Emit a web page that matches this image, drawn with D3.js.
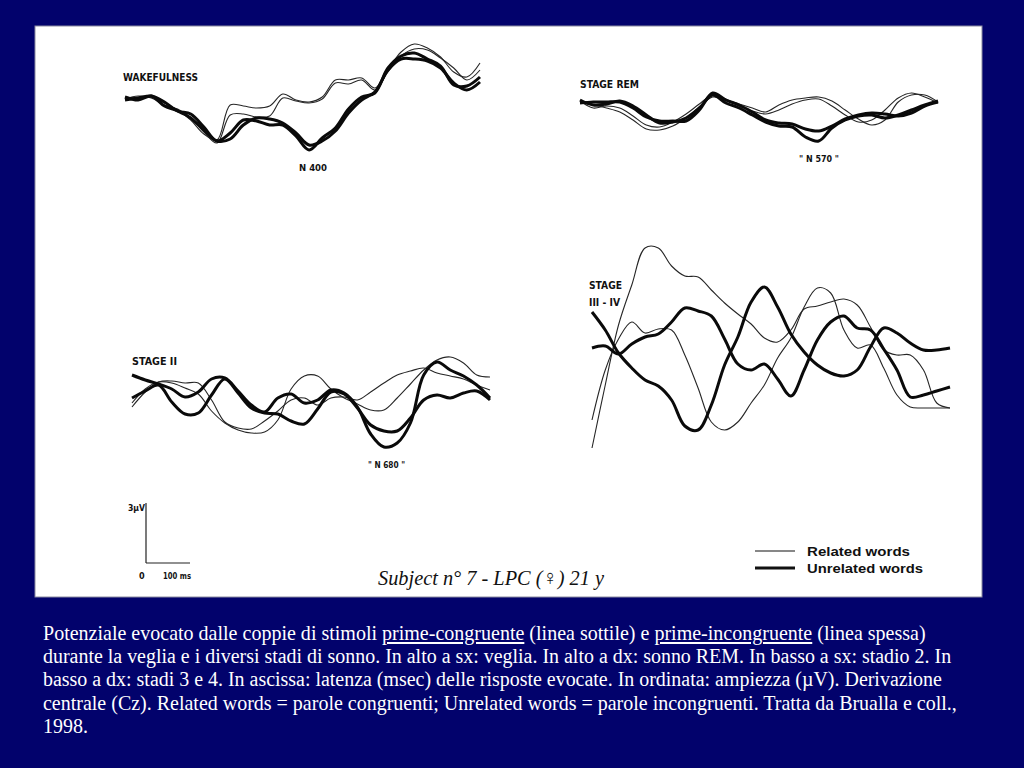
<!DOCTYPE html>
<html><head><meta charset="utf-8">
<script src="https://cdn.jsdelivr.net/npm/d3@7"></script>
<style>html,body{margin:0;padding:0;background:#02026c;overflow:hidden}svg{display:block}</style>
</head><body><svg id="c" width="1024" height="768"></svg>
<script>
// ---------- DATA (latency in ms, amplitude in µV) ----------
const timeMs = [0,30,60,90,120,150,180,210,240,270,300,330,360,390,420,450,480,510,540,570,600,630,660,690,720,750,780,810];

const wakeRelated1   = [0.15,0.1,0.15,-0.15,-0.5,-1,-1.7,-2,-0.25,-0.3,-0.4,-0.3,0.3,0,-0.1,0.15,1,1,1.1,0.6,1.5,2.4,2.8,2.6,2.15,1.4,1.15,1.85];
const wakeRelated2   = [0.05,0.2,0.1,-0.25,-0.45,-0.9,-1.6,-2.15,-0.75,-0.7,-0.85,-0.8,0.1,-0.05,-0.15,0.05,0.85,0.8,1,0.5,1.4,2.2,2.55,2.5,2.1,1.6,1,1.5];
const wakeUnrelated1 = [0,0.1,0.2,-0.1,-0.55,-0.7,-1.35,-2.05,-1.65,-1,-1.05,-1.25,-1.25,-1.8,-2.5,-1.9,-1.4,-0.45,0.15,0.35,1.6,2.2,2.35,2.05,1.7,0.75,0.7,1.15];
const wakeUnrelated2 = [0.15,0,0.2,-0.3,-0.55,-0.9,-1.5,-2.05,-1.95,-1.25,-0.9,-0.95,-1.15,-1.65,-2.25,-2.05,-1.55,-0.65,0,0.4,1.5,2.05,2.05,1.95,1.6,0.85,0.5,0.9];

const remRelated1   = [0,-0.1,-0.25,-0.45,-0.85,-1.3,-1.35,-1.15,-0.75,-0.2,0.3,0.15,-0.05,-0.25,-0.45,-0.1,0.15,0.25,0.3,0.1,-0.35,-0.8,-1.1,-0.85,0.05,0.4,0.4,0.05];
const remRelated2   = [0.1,-0.25,-0.15,-0.25,-0.65,-1.1,-1.2,-0.95,-0.55,-0.05,0.4,0.2,-0.15,-0.4,-0.55,-0.35,-0.05,0.15,0.2,-0.15,-0.6,-0.95,-0.85,-0.35,0.25,0.5,0.3,0];
const remUnrelated1 = [0,0.05,0.05,0.05,-0.25,-0.7,-0.9,-0.9,-0.9,-0.35,0.5,0.15,-0.1,-0.45,-0.85,-1,-1.05,-1.3,-1.4,-1.15,-0.8,-0.6,-0.5,-0.55,-0.65,-0.5,-0.15,0.05];
const remUnrelated2 = [0.15,-0.1,-0.05,0.1,-0.15,-0.6,-1,-0.95,-0.75,-0.25,0.4,0,-0.25,-0.6,-0.95,-1.15,-1.2,-1.7,-1.9,-1.25,-0.85,-0.65,-0.6,-0.75,-0.6,-0.35,-0.1,0.1];

const s2Related1   = [-0.6,0.15,0.65,0.7,0.6,0.6,-0.25,-1.35,-1.65,-1.7,-1.3,-0.8,-0.25,-0.15,-0.5,-0.15,-0.1,-0.25,0.15,0.6,1,1.2,1.35,1.1,0.95,0.8,0.5,0.25];
const s2Related2   = [-0.4,0.3,0.65,0.6,0.35,0.05,-0.8,-1.4,-1.75,-1.9,-1.85,-1.25,0.3,0.95,0.95,0.3,-0.15,-0.45,-0.75,-0.75,-0.15,0.55,1.25,1.75,1.9,1.6,1,0.9];
const s2Unrelated1 = [1,0.75,0.55,0.3,-0.1,0.15,0.8,0.85,0.2,-0.5,-0.85,-0.15,0.05,-0.4,-0.25,0.25,0.1,-0.6,-1.95,-2.6,-2.4,-1.4,1,1.65,1.25,0.95,0.5,-0.15];
const s2Unrelated2 = [-0.15,0.2,0.5,-0.35,-0.95,-0.9,0,0.8,0.1,-0.65,-0.9,-0.95,-1.3,-1.45,-0.7,0.15,0.05,-0.65,-1.5,-1.8,-1.8,-1.15,-0.25,0,-0.15,0.1,0.2,-0.25];

const s34Related1   = [-4.9,-1.75,1.25,3.25,5.1,5.1,4.2,3.7,3.65,3,2.35,1.8,1.3,0.6,0.4,1,2.05,2.2,2.4,2.55,2.25,1.15,0,-0.25,-0.25,-1,-2.65,-2.9];
const s34Related2   = [-3.5,-1,0.55,1.4,0.85,1.05,1,-0.25,-1.9,-3.6,-4,-3.6,-2.65,-1.75,-0.4,0.6,2.15,3.1,2.85,1,0.1,0.25,-0.9,-2.25,-2.85,-2.9,-2.9,-2.9];
const s34Unrelated1 = [1.9,1,-0.15,-0.9,-1.5,-1.8,-2.5,-3.8,-4,-2.75,-0.75,0.65,2.4,3.15,2.15,0.8,-0.1,-0.75,-1.15,-1.3,-1,0.15,1.1,0.85,0.35,0,0,0.1];
const s34Unrelated2 = [0.1,0.2,-0.2,0.3,0.65,0.8,1.4,2.1,1.95,1.7,0.55,-0.7,-1,-0.7,-1.45,-2.3,-1,0.5,1.4,1.7,1.1,1,0.05,-1,-2.35,-2.25,-2.05,-1.85];

const panelTitles = [["WAKEFULNESS"], ["STAGE REM"], ["STAGE II"], ["STAGE", "III - IV"]];
const panelNotes  = ["N 400", "\" N 570 \"", "\" N 680 \"", ""];
const legendLabels = ["Related words", "Unrelated words"];
const scaleBarUnits = {amp: 3, ampLabel: "3µV", time: 100, timeLabel: "100 ms", zero: "0"};
const subjectLabel = "Subject n° 7 - LPC (♀) 21 y";
const captionLines = [
  [["Potenziale evocato dalle coppie di stimoli ", false], ["prime-congruente", true], [" (linea sottile) e ", false], ["prime-incongruente", true], [" (linea spessa)", false]],
  [["durante la veglia e i diversi stadi di sonno. In alto a sx: veglia. In alto a dx: sonno REM. In basso a sx: stadio 2. In", false]],
  [["basso a dx: stadi 3 e 4. In ascissa: latenza (msec) delle risposte evocate. In ordinata: ampiezza (µV). Derivazione", false]],
  [["centrale (Cz). Related words = parole congruenti; Unrelated words = parole incongruenti. Tratta da Brualla e coll.,", false]],
  [["1998.", false]]
];

// ---------- LAYOUT ----------
const panels = [
  {rel:[wakeRelated1, wakeRelated2], unrel:[wakeUnrelated1, wakeUnrelated2], x0:125, x1:480, base:100,
   title:{x:123, y:[81], w:[75]}, note:{x:299, y:171, w:28}},
  {rel:[remRelated1, remRelated2], unrel:[remUnrelated1, remUnrelated2], x0:580, x1:938, base:103,
   title:{x:580, y:[88], w:[59]}, note:{x:799, y:162, w:40}},
  {rel:[s2Related1, s2Related2], unrel:[s2Unrelated1, s2Unrelated2], x0:132, x1:490, base:395,
   title:{x:132, y:[365], w:[45]}, note:{x:368, y:468, w:37}},
  {rel:[s34Related1, s34Related2], unrel:[s34Unrelated1, s34Unrelated2], x0:592, x1:950, base:350,
   title:{x:589, y:[289, 306], w:[33, 31]}, note:null}
];
const pxPerUv = 20;

const svg = d3.select('#c');
svg.append('rect').attr('width',1024).attr('height',768).attr('fill','#02026c');
svg.append('rect').attr('x',35).attr('y',26).attr('width',947).attr('height',571)
  .attr('fill','#ffffff').attr('stroke','#8a8aa0').attr('stroke-width',1);

const labelFont = "'DejaVu Sans Condensed','Liberation Sans Narrow','DejaVu Sans',sans-serif";

// fit a text to a width by choosing its font size (no glyph squeezing)
function fitSize(sel, base, target) {
  sel.attr('font-size', base);
  const len = sel.node().getComputedTextLength();
  if (len > 0) sel.attr('font-size', (base * target / len).toFixed(2));
  return sel;
}

panels.forEach((p, i) => {
  const x = d3.scaleLinear().domain([0, 810]).range([p.x0, p.x1]);
  const y = d3.scaleLinear().domain([-6, 6]).range([p.base + 6*pxPerUv, p.base - 6*pxPerUv]);
  const line = d3.line().x((d, k) => x(timeMs[k])).y(d => y(d)).curve(d3.curveCatmullRom.alpha(0.5));
  const g = svg.append('g');
  p.rel.forEach(s => g.append('path').attr('d', line(s)).attr('fill','none')
      .attr('stroke','#262626').attr('stroke-width',1.1).attr('stroke-linejoin','round'));
  p.unrel.forEach(s => g.append('path').attr('d', line(s)).attr('fill','none')
      .attr('stroke','#0a0a0a').attr('stroke-width',3).attr('stroke-linejoin','round'));
  panelTitles[i].forEach((t, k) => {
    g.append('text').attr('x', p.title.x).attr('y', p.title.y[k]).text(t)
      .attr('font-family', labelFont).attr('font-weight','bold').attr('font-size', 11)
      .attr('textLength', p.title.w[k]).attr('lengthAdjust','spacingAndGlyphs').attr('fill','#111');
  });
  if (p.note) {
    g.append('text').attr('x', p.note.x).attr('y', p.note.y).text(panelNotes[i])
      .attr('font-family', labelFont).attr('font-weight','bold').attr('font-size', 9)
      .attr('textLength', p.note.w).attr('lengthAdjust','spacingAndGlyphs').attr('fill','#111');
  }
});

// scale bar
const sbX = d3.scaleLinear().domain([0, 100]).range([146, 190]);
const sbY = d3.scaleLinear().domain([0, 3]).range([563, 563 - 3*pxPerUv]);
const sb = svg.append('g').attr('stroke','#222').attr('stroke-width',1.2);
sb.append('line').attr('x1', sbX(0)).attr('x2', sbX(0)).attr('y1', sbY(0)).attr('y2', sbY(scaleBarUnits.amp));
sb.append('line').attr('x1', sbX(0)).attr('x2', sbX(scaleBarUnits.time)).attr('y1', sbY(0)).attr('y2', sbY(0));
const sbt = svg.append('g').attr('font-family', labelFont).attr('font-weight','bold').attr('font-size', 9).attr('fill','#111');
sbt.append('text').attr('x',128).attr('y',sbY(scaleBarUnits.amp)+8).text(scaleBarUnits.ampLabel).attr('textLength',17).attr('lengthAdjust','spacingAndGlyphs');
sbt.append('text').attr('x',139).attr('y',579).text(scaleBarUnits.zero);
sbt.append('text').attr('x',163).attr('y',579).text(scaleBarUnits.timeLabel).attr('textLength',28).attr('lengthAdjust','spacingAndGlyphs');

// legend
const lg = svg.append('g');
[[551, 1.1], [568, 3]].forEach(([ly, w], k) => {
  lg.append('line').attr('x1',755).attr('x2',795).attr('y1',ly).attr('y2',ly)
    .attr('stroke','#111').attr('stroke-width',w);
  lg.append('text').attr('x',807).attr('y',ly+5).text(legendLabels[k])
    .attr('font-family',"'Liberation Sans',Arial,sans-serif").attr('font-weight','bold')
    .attr('font-size',12.5).attr('fill','#111')
    .attr('textLength', k ? 116 : 103).attr('lengthAdjust','spacingAndGlyphs');
});

// subject label
svg.append('text').attr('x',378).attr('y',585).text(subjectLabel)
  .attr('font-family',"'Liberation Serif','Times New Roman',serif").attr('font-style','italic')
  .attr('font-size',22).attr('fill','#111').attr('textLength',226).attr('lengthAdjust','spacingAndGlyphs');

// caption
const capEnds = [926, 951, 942, 957];
let capSize = 20;
captionLines.forEach((ln, k) => {
  const t = svg.append('text').attr('x',43).attr('y',640 + k*23.2)
    .attr('font-family',"'Liberation Serif','Times New Roman',serif")
    .attr('fill','#ffffff');
  ln.forEach(([s, u]) => {
    const ts = t.append('tspan').text(s);
    if (u) ts.attr('text-decoration','underline');
  });
  if (k < capEnds.length) { fitSize(t, 20, capEnds[k] - 43); capSize = +t.attr('font-size'); }
  else t.attr('font-size', capSize);
});
</script></body></html>
